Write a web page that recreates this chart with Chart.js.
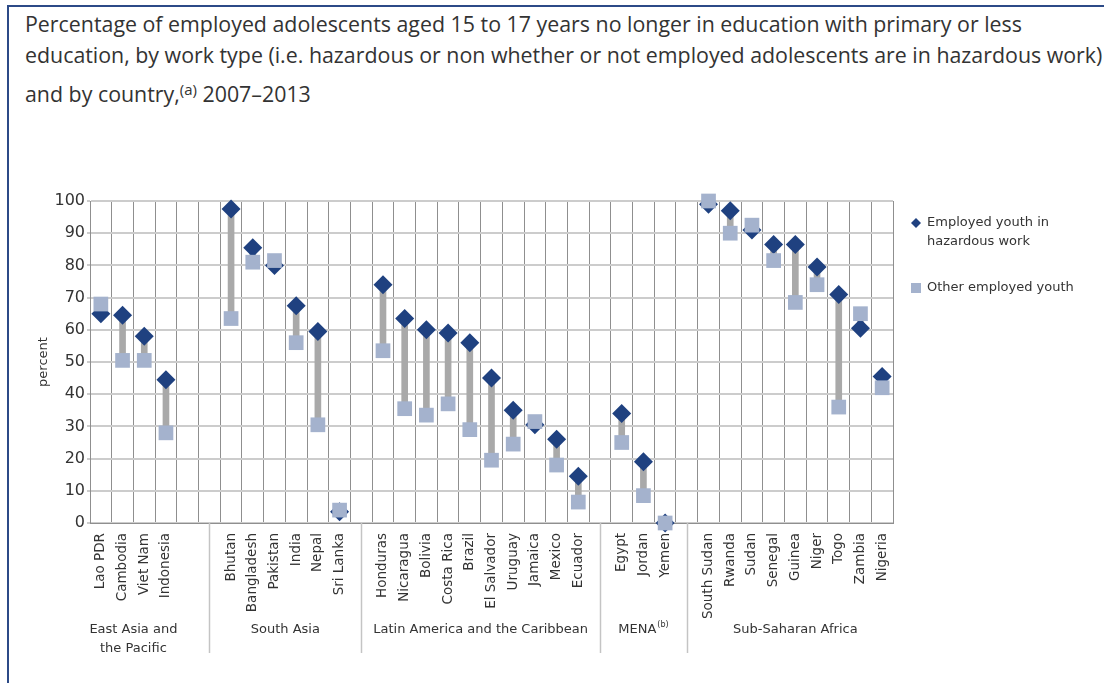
<!DOCTYPE html>
<html>
<head>
<meta charset="utf-8">
<script src="https://cdn.jsdelivr.net/npm/chart.js@4.4.1/dist/chart.umd.min.js"></script>
<style>
html,body{margin:0;padding:0;background:#fff;}
body{width:1104px;height:683px;position:relative;overflow:hidden;}
#frameTop{position:absolute;left:7px;top:5px;width:1097px;height:2px;background:#2c4a87;}
#frameLeft{position:absolute;left:7px;top:5px;width:2px;height:678px;background:#2c4a87;}
.tl{position:absolute;left:25px;white-space:nowrap;font-family:"Open Sans";color:#333;font-size:19px;line-height:1;}
.tl sup{font-size:0.7em;vertical-align:0;position:relative;top:-0.5em;}
#c{position:absolute;left:0;top:0;}
</style>
</head>
<body>
<div id="frameTop"></div>
<div id="frameLeft"></div>
<div class="tl" id="t1">Percentage of employed adolescents aged 15 to 17 years no longer in education with primary or less</div>
<div class="tl" id="t2">education, by work type (i.e. hazardous or non whether or not employed adolescents are in hazardous work)</div>
<div class="tl" id="t3">and by country,<sup>(a)</sup> 2007–2013</div>
<canvas id="c" width="1104" height="683"></canvas>
<script>
// ---- data ----
const categories = ['Lao PDR','Cambodia','Viet Nam','Indonesia','','',
  'Bhutan','Bangladesh','Pakistan','India','Nepal','Sri Lanka','',
  'Honduras','Nicaragua','Bolivia','Costa Rica','Brazil','El Salvador','Uruguay','Jamaica','Mexico','Ecuador','',
  'Egypt','Jordan','Yemen','',
  'South Sudan','Rwanda','Sudan','Senegal','Guinea','Niger','Togo','Zambia','Nigeria'];
const hazardous = [65, 64.5, 58, 44.5, null, null,
  97.5, 85.5, 80, 67.5, 59.5, 3.5, null,
  74, 63.5, 60, 59, 56, 45, 35, 30.5, 26, 14.5, null,
  34, 19, 0, null,
  99, 97, 91, 86.5, 86.5, 79.5, 71, 60.5, 45.5];
const other = [68, 50.5, 50.5, 28, null, null,
  63.5, 81, 81.5, 56, 30.5, 4, null,
  53.5, 35.5, 33.5, 37, 29, 19.5, 24.5, 31.5, 18, 6.5, null,
  25, 8.5, 0, null,
  100, 90, 92.5, 81.5, 68.5, 74, 36, 65, 42];
const yTicks = [0,10,20,30,40,50,60,70,80,90,100];
const groupNames = [['East Asia and','the Pacific'], ['South Asia'], ['Latin America and the Caribbean'], ['MENA'], ['Sub-Saharan Africa']];
const groupSup = ['', '', '', '(b)', ''];
const groupFirst = [0, 6, 13, 24, 28];
const groupLast = [3, 11, 22, 26, 36];
const separators = [5, 12, 23, 27];
const seriesNames = [['Employed youth in','hazardous work'], ['Other employed youth']];

// ---- title fit ----
(function(){
  const m = document.createElement('canvas').getContext('2d');
  m.font = '19px "Open Sans"';
  const w1 = m.measureText(document.getElementById('t1').textContent).width;
  const w2 = m.measureText(document.getElementById('t2').textContent).width;
  const s = (19*1005/w1 + 19*1070/w2)/2;
  const base = [32, 63, 102];
  ['t1','t2','t3'].forEach((id,i)=>{
    const el = document.getElementById(id);
    el.style.fontSize = s + 'px';
    el.style.top = (base[i] - 0.888*s) + 'px';
  });
})();

const gaps = categories.map((c,i) => (hazardous[i]==null || other[i]==null) ? null :
  [Math.min(hazardous[i], other[i]), Math.max(hazardous[i], other[i])]);

const DIAMOND = '#1f4180';
const SQUARE = '#a4b2cd';
const TXT = '#333333';
const FONT = 'DejaVu Sans';

const extrasPlugin = {
  id: 'extras',
  afterDraw(chart) {
    const ctx = chart.ctx;
    const xs = chart.scales.x;
    const area = chart.chartArea;
    ctx.save();
    // group separators
    ctx.strokeStyle = '#c4c4c4';
    ctx.lineWidth = 1.5;
    separators.forEach(i => {
      const x = Math.round(xs.getPixelForValue(i)) + 0.5;
      ctx.beginPath();
      ctx.moveTo(x, area.bottom);
      ctx.lineTo(x, 653);
      ctx.stroke();
    });
    // group labels
    ctx.fillStyle = TXT;
    ctx.textBaseline = 'middle';
    groupNames.forEach((lines, g) => {
      const cx = (xs.getPixelForValue(groupFirst[g]) + xs.getPixelForValue(groupLast[g])) / 2;
      lines.forEach((t, k) => {
        const y = 630 + k*19;
        ctx.font = '13px "' + FONT + '"';
        const w = ctx.measureText(t).width;
        let sw = 0;
        if (groupSup[g]) { ctx.font = '8px "' + FONT + '"'; sw = ctx.measureText(groupSup[g]).width + 1; }
        const x0 = cx - (w + sw)/2;
        ctx.font = '13px "' + FONT + '"';
        ctx.textAlign = 'left';
        ctx.fillText(t, x0, y);
        if (groupSup[g]) {
          ctx.font = '8px "' + FONT + '"';
          ctx.fillText(groupSup[g], x0 + w + 1, y - 5);
        }
      });
    });
    // legend
    ctx.font = '13px "' + FONT + '"';
    ctx.textAlign = 'left';
    ctx.fillStyle = DIAMOND;
    const lx = 916;
    ctx.beginPath();
    ctx.moveTo(lx - 5, 223); ctx.lineTo(lx, 218); ctx.lineTo(lx + 5, 223); ctx.lineTo(lx, 228); ctx.closePath();
    ctx.fill();
    ctx.fillStyle = SQUARE;
    ctx.fillRect(lx - 5, 283, 10, 10);
    ctx.fillStyle = TXT;
    seriesNames[0].forEach((t,k) => ctx.fillText(t, 927, 223 + k*19));
    seriesNames[1].forEach((t,k) => ctx.fillText(t, 927, 288 + k*19));
    ctx.restore();
  }
};

new Chart(document.getElementById('c'), {
  data: {
    labels: categories,
    datasets: [
      { type: 'line', label: seriesNames[1].join(' '), data: other, showLine: false,
        pointStyle: 'rect', pointRadius: 10.4, pointBackgroundColor: SQUARE, pointBorderWidth: 0,
        order: 1, clip: false },
      { type: 'line', label: seriesNames[0].join(' '), data: hazardous, showLine: false,
        pointStyle: 'rectRot', pointRadius: 9.5, pointBackgroundColor: DIAMOND, pointBorderWidth: 0,
        order: 2, clip: false },
      { type: 'bar', label: 'range', data: gaps, backgroundColor: '#a9a9a9', barThickness: 6, order: 3 }
    ]
  },
  options: {
    responsive: false,
    animation: false,
    events: [],
    layout: { padding: { left: 0, top: 201, right: 211, bottom: 0 } },
    plugins: { legend: { display: false }, tooltip: { enabled: false } },
    scales: {
      x: {
        offset: true,
        grid: { offset: true, color: '#8f8f8f', lineWidth: 1, drawTicks: false },
        border: { color: '#8f8f8f' },
        ticks: { autoSkip: false, maxRotation: 90, minRotation: 90, padding: 10,
                 font: { family: FONT, size: 13.5 }, color: TXT },
        afterFit(s) { s.height = 160; }
      },
      y: {
        min: 0, max: 100,
        afterBuildTicks(s) { s.ticks = yTicks.map(v => ({ value: v })); },
        ticks: { font: { family: FONT, size: 16 }, color: TXT, padding: 2 },
        grid: { color: '#cccccc', lineWidth: 2, tickLength: 3 },
        border: { color: '#8f8f8f' },
        title: { display: true, text: 'percent', font: { family: FONT, size: 13 }, color: TXT,
                 padding: { top: 36, bottom: 0 } },
        afterFit(s) { s.width = 90; }
      }
    }
  },
  plugins: [extrasPlugin]
});
</script>
</body>
</html>
